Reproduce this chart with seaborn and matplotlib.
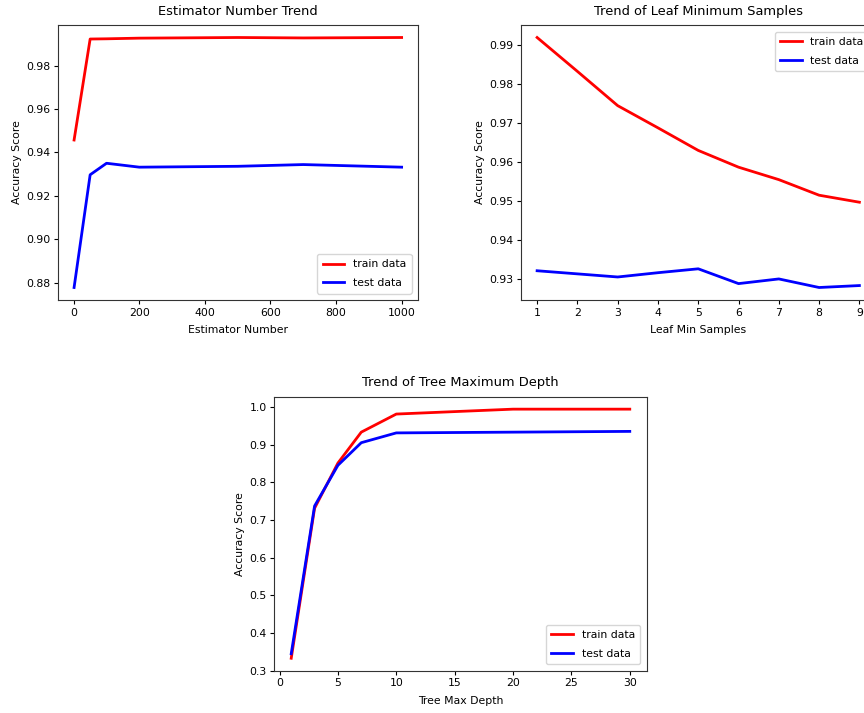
import matplotlib
matplotlib.use("Agg")
import matplotlib.pyplot as plt
import seaborn as sns
import pandas as pd

# Estimator number trend
est_x = [1, 50, 100, 200, 500, 700, 1000]
est_train = [0.9457, 0.9922, 0.9923, 0.9926, 0.9929, 0.9927, 0.9929]
est_test = [0.8778, 0.9297, 0.9350, 0.9332, 0.9336, 0.9344, 0.9332]

# Leaf minimum samples trend
leaf_x = [1, 2, 3, 4, 5, 6, 7, 8, 9]
leaf_train = [0.9920, 0.9833, 0.9745, 0.9688, 0.9630, 0.9587, 0.9555, 0.9515, 0.9497]
leaf_test = [0.9321, 0.9313, 0.9305, 0.9316, 0.9326, 0.9288, 0.9300, 0.9278, 0.9283]

# Tree max depth trend
depth_x = [1, 3, 5, 7, 10, 20, 30]
depth_train = [0.333, 0.731, 0.851, 0.933, 0.981, 0.994, 0.994]
depth_test = [0.345, 0.737, 0.845, 0.905, 0.931, 0.933, 0.935]

s = 0.78
plt.rcParams.update({
    "font.size": 10 * s,
    "axes.titlesize": 12 * s,
    "xtick.major.size": 3.5 * s,
    "ytick.major.size": 3.5 * s,
    "xtick.major.pad": 3.5 * s,
    "ytick.major.pad": 3.5 * s,
    "axes.labelpad": 4 * s,
    "axes.titlepad": 7.5,
    "axes.edgecolor": "#333333",
    "legend.labelspacing": 0.8,
    "legend.borderpad": 0.5,
    "legend.borderaxespad": 0.6,
})

panels = [
    ("Estimator Number Trend", "Estimator Number", est_x, est_train, est_test,
     "lower right", [57.7, 300, 360.3, 275], None),
    ("Trend of Leaf Minimum Samples", "Leaf Min Samples", leaf_x, leaf_train, leaf_test,
     "upper right", [521, 300, 354.5, 275], leaf_x),
    ("Trend of Tree Maximum Depth", "Tree Max Depth", depth_x, depth_train, depth_test,
     "lower right", [274.3, 670.7, 372.4, 274], None),
]

W, H = 864, 713
fig = plt.figure(figsize=(W / 100, H / 100), dpi=100)

for title, xlabel, xs, tr, te, loc, (l, b, w, h), xt in panels:
    ax = fig.add_axes([l / W, (H - b) / H, w / W, h / H])
    df = pd.DataFrame({"x": xs, "train": tr, "test": te})
    sns.lineplot(data=df, x="x", y="train", color="red", label="train data", ax=ax, linewidth=2)
    sns.lineplot(data=df, x="x", y="test", color="blue", label="test data", ax=ax, linewidth=2)
    if xt is not None:
        ax.set_xticks(xt)
    ax.set_title(title)
    ax.set_xlabel(xlabel, labelpad=5.5)
    ax.set_ylabel("Accuracy Score")
    ax.legend(loc=loc)

fig.savefig("out.png", dpi=100)
